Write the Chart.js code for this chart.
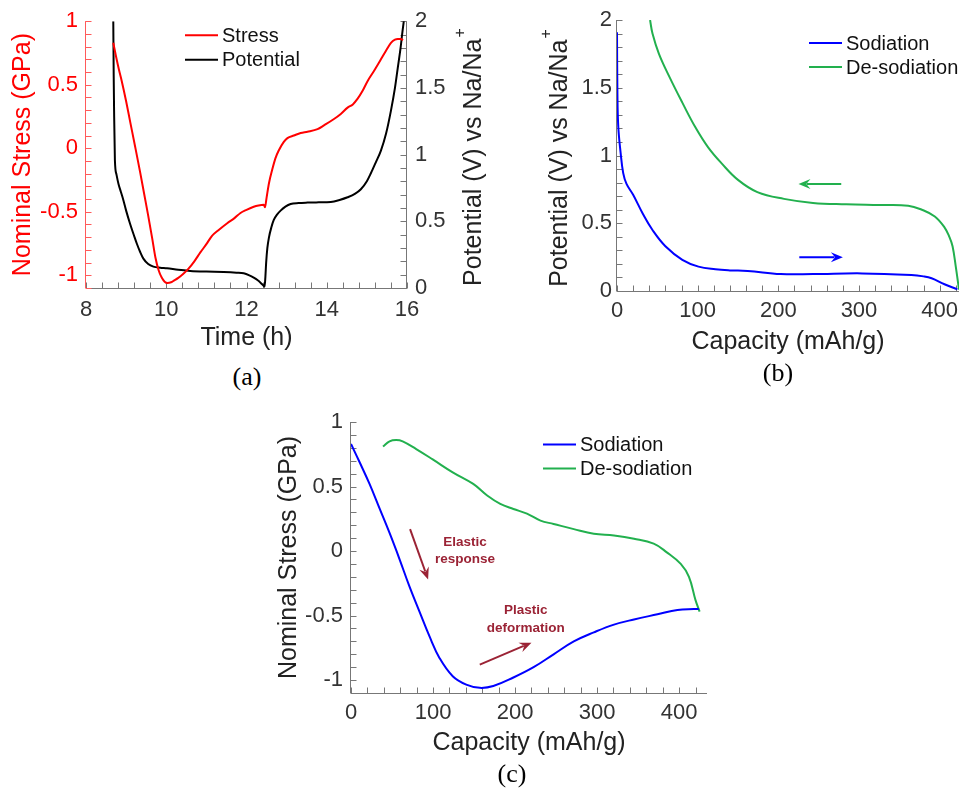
<!DOCTYPE html>
<html>
<head>
<meta charset="utf-8">
<title>Stress and potential during sodiation</title>
<script src="https://cdn.jsdelivr.net/npm/chart.js@4.4.1/dist/chart.umd.min.js"></script>
<style>
  body { margin: 0; background: #fff; }
  #page { position: relative; width: 965px; height: 790px; overflow: hidden; background: #fff; }
  .box { position: absolute; }
  .cap { position: absolute; transform: translate(-50%, -50%); font: 26px "Liberation Serif", "Times New Roman", serif; line-height: 1; color: #000; }
</style>
</head>
<body>
<div id="page">
  <div class="box" style="left:0;top:0"><canvas id="chartA" width="490" height="360"></canvas></div>
  <div class="box" style="left:485px;top:0"><canvas id="chartB" width="480" height="360"></canvas></div>
  <div class="box" style="left:250px;top:400px"><canvas id="chartC" width="480" height="360"></canvas></div>
  <div class="cap" style="left:247px;top:377px">(a)</div>
  <div class="cap" style="left:778px;top:373px">(b)</div>
  <div class="cap" style="left:512px;top:774px">(c)</div>
</div>
<script>
// (a) stress and potential against time
const stressTime = [8.68, 8.75, 8.82, 8.89, 9.0, 9.1, 9.22, 9.35, 9.45, 9.55, 9.65, 9.73, 9.81, 9.89, 9.96, 10.03, 10.12, 10.2, 10.3, 10.42,
  10.55, 10.7, 10.85, 11.0, 11.14, 11.3, 11.52, 11.7, 11.85, 12.0, 12.18, 12.3, 12.43, 12.46, 12.5, 12.56, 12.64, 12.72, 12.8, 12.93,
  13.02, 13.18, 13.35, 13.52, 13.77, 13.93, 14.18, 14.35, 14.52, 14.65, 14.77, 14.89, 15.02, 15.18, 15.35, 15.48, 15.6, 15.7, 15.77, 15.85, 15.9];
const stressGPa = [0.83, 0.72, 0.62, 0.53, 0.37, 0.21, 0.02, -0.19, -0.36, -0.53, -0.71, -0.86, -0.96, -1.02, -1.05, -1.06, -1.055, -1.04, -1.02, -0.99,
  -0.95, -0.89, -0.82, -0.755, -0.69, -0.645, -0.59, -0.55, -0.51, -0.485, -0.46, -0.45, -0.445, -0.465, -0.39, -0.275, -0.17, -0.08, -0.02, 0.05,
  0.08, 0.10, 0.12, 0.13, 0.15, 0.18, 0.23, 0.27, 0.32, 0.345, 0.39, 0.45, 0.53, 0.61, 0.70, 0.77, 0.83, 0.855, 0.86, 0.86, 0.85];
const potTime = [8.68, 8.69, 8.70, 8.72, 8.76, 8.81, 8.87, 8.93, 9.0, 9.1, 9.2, 9.27, 9.35, 9.43, 9.55, 9.68, 9.85, 10.02, 10.3, 10.6,
  11.0, 11.43, 11.75, 11.93, 12.07, 12.18, 12.28, 12.35, 12.41, 12.45, 12.47, 12.49, 12.52, 12.56, 12.62, 12.68, 12.76, 12.85, 12.97, 13.1,
  13.3, 13.52, 13.8, 14.1, 14.32, 14.52, 14.7, 14.85, 15.0, 15.1, 15.22, 15.35, 15.48, 15.6, 15.7, 15.77, 15.84, 15.89, 15.92];
const potV = [2.0, 1.6, 1.33, 0.96, 0.85, 0.78, 0.72, 0.66, 0.58, 0.48, 0.39, 0.33, 0.27, 0.22, 0.18, 0.16, 0.152, 0.148, 0.136, 0.128,
  0.123, 0.12, 0.115, 0.11, 0.095, 0.078, 0.058, 0.04, 0.022, 0.01, 0.08, 0.19, 0.30, 0.38, 0.455, 0.51, 0.55, 0.58, 0.61, 0.63,
  0.637, 0.64, 0.642, 0.645, 0.66, 0.68, 0.705, 0.74, 0.80, 0.86, 0.94, 1.03, 1.16, 1.33, 1.5, 1.65, 1.8, 1.93, 2.0];

// (b) potential against capacity
const sodCapB = [0, 0.5, 1.6, 4.5, 7.7, 11.8, 20, 32, 44, 60, 81, 101, 122, 140, 162, 203, 243, 304, 365, 380, 390, 406, 422];
const sodVB = [1.91, 1.46, 1.21, 1.02, 0.87, 0.79, 0.71, 0.57, 0.45, 0.33, 0.23, 0.18, 0.16, 0.152, 0.148, 0.125, 0.125, 0.13, 0.118, 0.108, 0.094, 0.05, 0.012];
const desodCapB = [41, 44, 52, 65, 81, 97, 113, 130, 150, 174, 207, 243, 284, 325, 361, 378, 394, 406, 412, 416, 420, 424];
const desodVB = [2.0, 1.90, 1.75, 1.58, 1.39, 1.21, 1.06, 0.94, 0.82, 0.73, 0.68, 0.65, 0.64, 0.635, 0.63, 0.60, 0.55, 0.47, 0.40, 0.33, 0.18, 0.01];

// (c) stress against capacity
const sodCapC = [0, 10.4, 22.6, 34.8, 47, 59, 71, 83.5, 95.6, 108, 124, 140.5, 157, 173.5, 198, 222.6, 247, 271.6, 296, 320.6, 345, 373.6, 398, 418, 424];
const sodStressC = [0.83, 0.69, 0.52, 0.33, 0.14, -0.06, -0.27, -0.47, -0.66, -0.83, -0.97, -1.035, -1.06, -1.046, -0.98, -0.90, -0.80, -0.70, -0.63, -0.57, -0.53, -0.49, -0.456, -0.45, -0.45];
const desodCapC = [39, 47, 55, 63, 79.5, 99.6, 124, 149, 166, 182, 198, 214.5, 231, 247, 271.6, 296, 320.6, 345, 369, 385, 402, 412, 420, 425];
const desodStressC = [0.81, 0.85, 0.86, 0.85, 0.79, 0.71, 0.61, 0.52, 0.43, 0.365, 0.326, 0.29, 0.236, 0.21, 0.17, 0.134, 0.12, 0.095, 0.057, -0.01, -0.10, -0.20, -0.38, -0.47];

// tick labels
const timeTicks = [8, 10, 12, 14, 16];
const stressTicks = [-1, -0.5, 0, 0.5, 1];
const potTicks = [0, 0.5, 1, 1.5, 2];
const capTicks = [0, 100, 200, 300, 400];

const FONT = '"Liberation Sans", Arial, Helvetica, sans-serif';
const RED = '#ff0000', BLUE = '#0000ff', GREEN = '#22b04e', NOTE = '#9b2335';

function pts(xs, ys) {
  return xs.map((x, i) => ({ x: x, y: ys[i] }));
}

// sharp corners (panel a) keep monotone, smooth curves get a bezier tension
function line(label, data, color, axis, smooth) {
  const ds = {
    label: label, data: data, yAxisID: axis || 'y',
    showLine: true, borderColor: color, backgroundColor: color,
    borderWidth: 2, pointRadius: 0
  };
  if (smooth) ds.tension = 0.4;
  else ds.cubicInterpolationMode = 'monotone';
  return ds;
}

function axis(o) {
  return {
    type: 'linear', position: o.position, min: o.min, max: o.max,
    grid: { display: false, drawTicks: false }, border: { display: false },
    afterBuildTicks: s => { s.ticks = o.ticks.map(v => ({ value: v })); },
    afterFit: s => { if (s.isHorizontal()) s.height = o.size; else s.width = o.size; },
    ticks: {
      color: o.tickColor || '#333', padding: o.pad, maxRotation: 0, autoSkip: false,
      font: { family: FONT, size: 22 }, callback: v => String(v)
    },
    title: o.title ? {
      display: true, text: o.title, color: o.titleColor || '#222',
      font: { family: FONT, size: 25 }, padding: o.titlePad
    } : { display: false }
  };
}

// axis lines with inward ticks, matlab style
const matAxes = {
  id: 'matAxes',
  beforeDatasetsDraw(chart, args, opts) {
    const ctx = chart.ctx, ca = chart.chartArea;
    opts.axes.forEach(a => {
      const s = chart.scales[a.id];
      const horiz = s.isHorizontal();
      let edge, dir;
      if (horiz) { edge = Math.round(ca.bottom) + 0.5; dir = -1; }
      else if (s.position === 'left') { edge = Math.round(ca.left) - 0.5; dir = 1; }
      else { edge = Math.round(ca.right) - 0.5; dir = -1; }
      ctx.save();
      ctx.strokeStyle = a.color;
      ctx.lineWidth = 1;
      ctx.beginPath();
      if (horiz) { ctx.moveTo(ca.left, edge); ctx.lineTo(ca.right, edge); }
      else { ctx.moveTo(edge, ca.top); ctx.lineTo(edge, ca.bottom); }
      const i0 = Math.ceil(s.min / a.minor - 1e-6), i1 = Math.floor(s.max / a.minor + 1e-6);
      for (let i = i0; i <= i1; i++) {
        const p = Math.round(s.getPixelForValue(i * a.minor)) + 0.5;
        if (horiz) { ctx.moveTo(p, edge); ctx.lineTo(p, edge + dir * 6); }
        else { ctx.moveTo(edge, p); ctx.lineTo(edge + dir * 6, p); }
      }
      ctx.stroke();
      ctx.restore();
    });
  }
};

// legend inside the plot, no box
const inLegend = {
  id: 'inLegend',
  afterDraw(chart, args, opts) {
    const ctx = chart.ctx, ca = chart.chartArea;
    ctx.save();
    ctx.font = '20px ' + FONT;
    ctx.textBaseline = 'middle';
    chart.data.datasets.forEach((ds, i) => {
      const y = ca.top + opts.y0 + i * opts.dy;
      ctx.strokeStyle = ds.borderColor;
      ctx.lineWidth = 2;
      ctx.beginPath();
      ctx.moveTo(ca.left + opts.x0, y);
      ctx.lineTo(ca.left + opts.x1, y);
      ctx.stroke();
      ctx.fillStyle = '#111';
      ctx.fillText(ds.label, ca.left + opts.tx, y + 1);
    });
    ctx.restore();
  }
};

// rotated axis title with a superscript, reading bottom to top
const vTitle = {
  id: 'vTitle',
  afterDraw(chart, args, opts) {
    const ctx = chart.ctx, ca = chart.chartArea;
    ctx.save();
    ctx.translate(opts.x, (ca.top + ca.bottom) / 2 + 3);
    ctx.rotate(-Math.PI / 2);
    ctx.fillStyle = opts.color || '#222';
    ctx.textBaseline = 'middle';
    ctx.font = '25px ' + FONT;
    const w = ctx.measureText(opts.text).width;
    ctx.font = '16px ' + FONT;
    const ws = ctx.measureText(opts.sup).width;
    const x0 = -(w + ws) / 2;
    ctx.font = '25px ' + FONT;
    ctx.fillText(opts.text, x0, 0);
    ctx.font = '16px ' + FONT;
    ctx.fillText(opts.sup, x0 + w + 1, -13);
    ctx.restore();
  }
};

// arrows and labels placed in data units
const notes = {
  id: 'notes',
  afterDatasetsDraw(chart, args, opts) {
    const ctx = chart.ctx, sx = chart.scales.x, sy = chart.scales.y;
    ctx.save();
    (opts.arrows || []).forEach(a => {
      const x0 = sx.getPixelForValue(a.from[0]), y0 = sy.getPixelForValue(a.from[1]);
      const x1 = sx.getPixelForValue(a.to[0]), y1 = sy.getPixelForValue(a.to[1]);
      const ang = Math.atan2(y1 - y0, x1 - x0), c = Math.cos(ang), s = Math.sin(ang);
      const hl = 12, hw = 5;
      ctx.strokeStyle = a.color;
      ctx.fillStyle = a.color;
      ctx.lineWidth = 2;
      ctx.beginPath();
      ctx.moveTo(x0, y0);
      ctx.lineTo(x1 - hl * 0.7 * c, y1 - hl * 0.7 * s);
      ctx.stroke();
      ctx.beginPath();
      ctx.moveTo(x1, y1);
      ctx.lineTo(x1 - hl * c + hw * s, y1 - hl * s - hw * c);
      ctx.lineTo(x1 - hl * 0.65 * c, y1 - hl * 0.65 * s);
      ctx.lineTo(x1 - hl * c - hw * s, y1 - hl * s + hw * c);
      ctx.closePath();
      ctx.fill();
    });
    ctx.font = 'bold 13.5px ' + FONT;
    ctx.textAlign = 'center';
    ctx.textBaseline = 'middle';
    (opts.labels || []).forEach(l => {
      ctx.fillStyle = l.color;
      ctx.fillText(l.text, sx.getPixelForValue(l.at[0]), sy.getPixelForValue(l.at[1]));
    });
    ctx.restore();
  }
};

const base = {
  responsive: false,
  animation: false,
  events: []
};

new Chart(document.getElementById('chartA'), {
  type: 'scatter',
  data: {
    datasets: [
      line('Stress', pts(stressTime, stressGPa), RED, 'y'),
      line('Potential', pts(potTime, potV), '#000', 'y2')
    ]
  },
  options: Object.assign({}, base, {
    layout: { padding: { top: 20, left: 0, right: 0, bottom: 0 } },
    scales: {
      x: axis({ position: 'bottom', min: 8, max: 16, ticks: timeTicks, size: 72, pad: 9, title: 'Time (h)', titlePad: 7 }),
      y: axis({ position: 'left', min: -1.1, max: 1, ticks: stressTicks, size: 86, pad: 8, tickColor: RED,
        title: 'Nominal Stress (GPa)', titleColor: RED, titlePad: 8 }),
      y2: axis({ position: 'right', min: 0, max: 2, ticks: potTicks, size: 83, pad: 8 })
    },
    plugins: {
      legend: { display: false }, tooltip: { enabled: false },
      matAxes: { axes: [{ id: 'x', minor: 0.4, color: '#777' }, { id: 'y', minor: 0.1, color: '#ff5a5a' }, { id: 'y2', minor: 0.1, color: '#777' }] },
      inLegend: { x0: 99, x1: 132, tx: 136, y0: 14, dy: 24.5 },
      vTitle: { x: 474, text: 'Potential (V) vs Na/Na', sup: '+' }
    }
  }),
  plugins: [matAxes, inLegend, vTitle]
});

new Chart(document.getElementById('chartB'), {
  type: 'scatter',
  data: {
    datasets: [
      line('Sodiation', pts(sodCapB, sodVB), BLUE, 'y', true),
      line('De-sodiation', pts(desodCapB, desodVB), GREEN, 'y', true)
    ]
  },
  options: Object.assign({}, base, {
    layout: { padding: { top: 20, left: 0, right: 0, bottom: 0 } },
    scales: {
      x: axis({ position: 'bottom', min: 0, max: 424, ticks: capTicks, size: 69, pad: 7, title: 'Capacity (mAh/g)', titlePad: 3 }),
      y: axis({ position: 'left', min: 0, max: 2, ticks: potTicks, size: 132, pad: 5 })
    },
    plugins: {
      legend: { display: false }, tooltip: { enabled: false },
      matAxes: { axes: [{ id: 'x', minor: 20, color: '#777' }, { id: 'y', minor: 0.1, color: '#777' }] },
      inLegend: { x0: 192, x1: 225, tx: 229, y0: 23, dy: 24 },
      vTitle: { x: 75, text: 'Potential (V) vs Na/Na', sup: '+' },
      notes: {
        arrows: [
          { from: [278, 0.79], to: [225, 0.79], color: GREEN },
          { from: [226, 0.25], to: [280, 0.25], color: BLUE }
        ]
      }
    }
  }),
  plugins: [matAxes, inLegend, vTitle, notes]
});

new Chart(document.getElementById('chartC'), {
  type: 'scatter',
  data: {
    datasets: [
      line('Sodiation', pts(sodCapC, sodStressC), BLUE, 'y', true),
      line('De-sodiation', pts(desodCapC, desodStressC), GREEN, 'y', true)
    ]
  },
  options: Object.assign({}, base, {
    layout: { padding: { top: 22, left: 0, right: 23, bottom: 0 } },
    scales: {
      x: axis({ position: 'bottom', min: 0, max: 434, ticks: capTicks, size: 67, pad: 7, title: 'Capacity (mAh/g)', titlePad: 2 }),
      y: axis({ position: 'left', min: -1.1, max: 1, ticks: stressTicks, size: 101, pad: 8, title: 'Nominal Stress (GPa)', titlePad: 24 })
    },
    plugins: {
      legend: { display: false }, tooltip: { enabled: false },
      matAxes: { axes: [{ id: 'x', minor: 20, color: '#777' }, { id: 'y', minor: 0.1, color: '#777' }] },
      inLegend: { x0: 192, x1: 225, tx: 229, y0: 22.5, dy: 24 },
      notes: {
        arrows: [
          { from: [72, 0.17], to: [94, -0.22], color: NOTE },
          { from: [157, -0.88], to: [220, -0.71], color: NOTE }
        ],
        labels: [
          { text: 'Elastic', at: [139, 0.07], color: NOTE },
          { text: 'response', at: [139, -0.066], color: NOTE },
          { text: 'Plastic', at: [213, -0.46], color: NOTE },
          { text: 'deformation', at: [213, -0.60], color: NOTE }
        ]
      }
    }
  }),
  plugins: [matAxes, inLegend, notes]
});
</script>
</body>
</html>
